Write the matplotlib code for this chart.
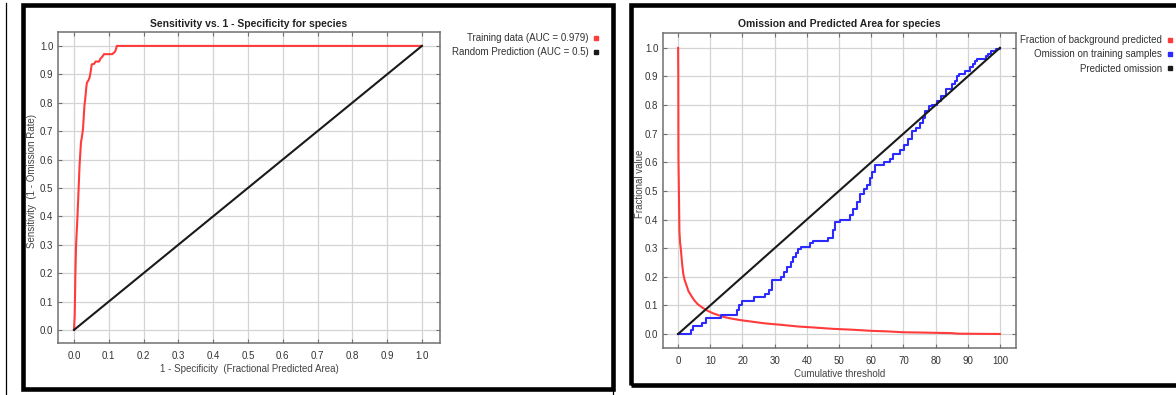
import matplotlib
matplotlib.use("Agg")
import matplotlib.pyplot as plt
from matplotlib.lines import Line2D
from matplotlib.patches import Rectangle

plt.rcParams['font.family'] = ['Liberation Sans', 'DejaVu Sans']

# ROC curve (training data)
roc_fpr = [0.0, 0.002, 0.003, 0.004, 0.006, 0.008, 0.010, 0.012, 0.014, 0.016,
           0.018, 0.020, 0.024, 0.026, 0.028, 0.030, 0.032, 0.035, 0.037, 0.042,
           0.045, 0.048, 0.051, 0.058, 0.062, 0.072, 0.076, 0.082, 0.086, 0.110,
           0.118, 0.121, 0.123, 1.0]
roc_tpr = [0.0, 0.05, 0.12, 0.20, 0.30, 0.35, 0.40, 0.46, 0.52, 0.58,
           0.62, 0.66, 0.69, 0.71, 0.75, 0.79, 0.81, 0.85, 0.87, 0.88,
           0.89, 0.91, 0.935, 0.937, 0.945, 0.945, 0.955, 0.963, 0.971, 0.971,
           0.98, 0.99, 1.0, 1.0]
random_x = [0.0, 1.0]
random_y = [0.0, 1.0]

# Omission / predicted area
bg_thr = [0, 0.05, 0.1, 0.2, 0.3, 0.4, 0.6, 0.9, 1.2, 1.6, 2.0, 2.6, 3.2, 4.0,
          5.0, 6.0, 7.3, 9.0, 10.9, 12.5, 14, 16, 19, 23, 27, 32, 37.5, 43,
          48, 54, 60, 65, 70, 76, 80, 85, 87, 100]
bg_frac = [1.0, 0.9, 0.62, 0.53, 0.45, 0.36, 0.32, 0.29, 0.25, 0.21, 0.19, 0.17,
           0.15, 0.135, 0.118, 0.105, 0.094, 0.082, 0.072, 0.066, 0.060, 0.055,
           0.049, 0.043, 0.037, 0.032, 0.026, 0.022, 0.018, 0.015, 0.011, 0.009,
           0.006, 0.005, 0.004, 0.003, 0.001, 0.0]

om_thr = [0, 4.0, 4.6, 7.3, 8.6, 13.3, 18.2, 19.0, 20.0, 23.6,
          27.0, 28.2, 29.3, 32.0, 33.0, 33.8, 35.0, 35.8, 36.5, 37.3,
          38.1, 40.9, 41.8, 46.5, 48.2, 48.8, 50.3, 53.4, 54.4, 55.5,
          56.6, 57.7, 58.6, 59.5, 60.2, 61.3, 64.1, 65.7, 66.9, 69.1,
          70.2, 71.3, 72.6, 74.0, 75.1, 76.2, 76.8, 77.9, 79.0, 80.4,
          81.8, 83.4, 85.1, 86.0, 86.7, 87.3, 89.0, 90.6, 91.5, 92.3,
          92.8, 95.6, 96.4, 97.2, 98.9, 100]
om_frac = [0.0, 0.014, 0.028, 0.040, 0.055, 0.066, 0.085, 0.100, 0.116, 0.128,
           0.138, 0.152, 0.188, 0.200, 0.215, 0.233, 0.250, 0.268, 0.283, 0.296,
           0.305, 0.318, 0.326, 0.336, 0.365, 0.390, 0.400, 0.415, 0.436, 0.460,
           0.488, 0.505, 0.520, 0.545, 0.565, 0.590, 0.600, 0.612, 0.630, 0.642,
           0.660, 0.680, 0.708, 0.720, 0.738, 0.756, 0.779, 0.797, 0.802, 0.814,
           0.831, 0.855, 0.872, 0.885, 0.900, 0.910, 0.920, 0.932, 0.943, 0.953,
           0.960, 0.970, 0.978, 0.988, 0.997, 1.0]
pred_x = [0, 100]
pred_y = [0.0, 1.0]

W, H = 1176, 395
fig = plt.figure(figsize=(W / 100, H / 100), dpi=100)

RED = '#ff3b3b'
BLUE = '#2b2bff'
BLACK = '#1a1a1a'


def style_axes(ax, xticks, yticks):
    ax.set_xticks(xticks)
    ax.set_yticks(yticks)
    ax.grid(True, color='#d4d4d4', linewidth=0.9)
    ax.set_axisbelow(True)
    for s in ax.spines.values():
        s.set_color('#707070')
        s.set_linewidth(1.1)
    ax.tick_params(direction='in', length=3, width=0.8, color='#707070',
                   top=True, right=True, labelsize=7, labelcolor='#333333')
    ax.tick_params(axis='x', pad=6)
    ax.tick_params(axis='y', pad=3.4)


# left panel
ax1 = fig.add_axes([58 / W, 1 - 343 / H, 382 / W, 311 / H])
ax1.plot(roc_fpr, roc_tpr, color=RED, lw=1.5)
ax1.plot(random_x, random_y, color=BLACK, lw=1.5)
ax1.set_xlim(-0.046, 1.052)
ax1.set_ylim(-0.046, 1.049)
style_axes(ax1, [i / 10 for i in range(11)], [i / 10 for i in range(11)])
ax1.xaxis.set_major_formatter(lambda v, p: f'{v:.1f}')
ax1.yaxis.set_major_formatter(lambda v, p: f'{v:.1f}')
ax1.set_title('Sensitivity vs. 1 - Specificity for species', fontsize=7.5,
              fontweight='bold', color='#222222', pad=3.6)
ax1.set_xlabel('1 - Specificity  (Fractional Predicted Area)', fontsize=7,
               color='#444444', labelpad=2)
ax1.set_ylabel('Sensitivity  (1 - Omission Rate)', fontsize=7, color='#444444')
ax1.yaxis.set_label_coords(-0.054, 0.52)
h1 = [Line2D([], [], marker='s', ls='none', color=RED, markersize=3.2),
      Line2D([], [], marker='s', ls='none', color=BLACK, markersize=3.2)]
fig.legend(h1, ['Training data (AUC = 0.979)', 'Random Prediction (AUC = 0.5)'],
           loc='upper right', bbox_to_anchor=(599 / W, 1 - 33 / H),
           frameon=False, markerfirst=False, fontsize=7, handlelength=0.6,
           handletextpad=0.5, labelspacing=0.45, borderpad=0, borderaxespad=0,
           labelcolor='#333333')

# right panel
ax2 = fig.add_axes([663 / W, 1 - 348 / H, 353 / W, 315 / H])
ax2.plot(bg_thr, bg_frac, color=RED, lw=1.5)
ax2.step(om_thr, om_frac, where='post', color=BLUE, lw=1.5)
ax2.plot(pred_x, pred_y, color=BLACK, lw=1.5)
ax2.set_xlim(-4.7, 105)
ax2.set_ylim(-0.049, 1.052)
style_axes(ax2, list(range(0, 101, 10)), [i / 10 for i in range(11)])
ax2.yaxis.set_major_formatter(lambda v, p: f'{v:.1f}')
ax2.set_title('Omission and Predicted Area for species', fontsize=7.5,
              fontweight='bold', color='#222222', pad=4)
ax2.set_xlabel('Cumulative threshold', fontsize=7, color='#444444', labelpad=2)
ax2.set_ylabel('Fractional value', fontsize=7, color='#444444')
ax2.yaxis.set_label_coords(-0.052, 0.52)
h2 = [Line2D([], [], marker='s', ls='none', color=RED, markersize=3.2),
      Line2D([], [], marker='s', ls='none', color=BLUE, markersize=3.2),
      Line2D([], [], marker='s', ls='none', color=BLACK, markersize=3.2)]
fig.legend(h2, ['Fraction of background predicted', 'Omission on training samples',
                'Predicted omission'],
           loc='upper right', bbox_to_anchor=(1173 / W, 1 - 35 / H),
           frameon=False, markerfirst=False, fontsize=7, handlelength=0.6,
           handletextpad=0.5, labelspacing=0.45, borderpad=0, borderaxespad=0,
           labelcolor='#333333')

# panel frames
lw_frame = 3.3
fig.add_artist(Rectangle((23 / W, 1 - 388.5 / H), 590 / W, 384 / H,
                         transform=fig.transFigure, fill=False,
                         ec='black', lw=lw_frame))
fig.add_artist(Rectangle((630.5 / W, 1 - 384.5 / H), 600 / W, 379.5 / H,
                         transform=fig.transFigure, fill=False,
                         ec='black', lw=lw_frame))
fig.add_artist(Line2D([6 / W, 6 / W], [0, 1 - 3 / H], transform=fig.transFigure,
                      color='black', lw=0.9))
fig.add_artist(Line2D([613 / W, 613 / W], [0, 1 - 388 / H],
                      transform=fig.transFigure, color='black', lw=0.9))

fig.savefig('out.png', dpi=100)
